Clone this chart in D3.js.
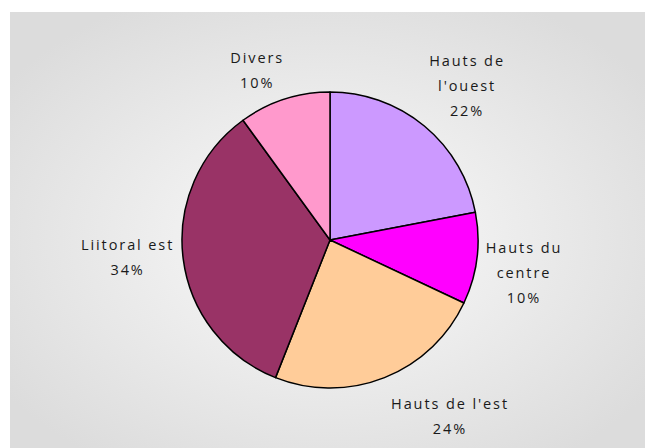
<!DOCTYPE html>
<html lang='fr'>
  <head>
    <meta charset='utf-8'>
    <script src='https://cdnjs.cloudflare.com/ajax/libs/d3/7.8.5/d3.min.js'></script>
    <style>
      body { margin: 0; background: #fff; }
      svg text { font-family: 'Open Sans', sans-serif; font-size: 14.5px; fill: #1a1a1a; letter-spacing: 1.9px; }
    </style>
  </head>
  <body>
    <div id='chart'></div>
    <script type='text/javascript'>

      // data, clockwise from 12 o'clock
      var zones = ["Hauts de l'ouest", 'Hauts du centre', "Hauts de l'est", 'Liitoral est', 'Divers'];
      var labelLines = [["Hauts de", "l'ouest"], ['Hauts du', 'centre'], ["Hauts de l'est"], ['Liitoral est'], ['Divers']];
      var shares = [22, 10, 24, 34, 10];
      var colours = ['#cc99ff', '#ff00ff', '#ffcc99', '#993366', '#ff99cc'];

      var svgWidth = 645;
      var svgHeight = 448;
      var cx = 330;
      var cy = 240;
      var radius = 148;
      var lineHeight = 25;

      var svg = d3.select('#chart').append('svg')
                  .attr('width', svgWidth)
                  .attr('height', svgHeight);

      // background with soft radial gradient
      var grad = svg.append('defs').append('radialGradient')
                    .attr('id', 'bg')
                    .attr('cx', '50%').attr('cy', '52%').attr('r', '62%');
      grad.append('stop').attr('offset', '0%').attr('stop-color', '#fbfbfb');
      grad.append('stop').attr('offset', '100%').attr('stop-color', '#dcdcdc');

      svg.append('rect')
         .attr('x', 10).attr('y', 12)
         .attr('width', svgWidth - 10).attr('height', svgHeight - 12)
         .attr('fill', 'url(#bg)');

      var pie = d3.pie().sort(null).value(function(d){ return d; });
      var arcs = pie(shares);

      var arc = d3.arc().innerRadius(0).outerRadius(radius);

      var g = svg.append('g').attr('transform', 'translate(' + cx + ',' + cy + ')');

      g.selectAll('path').data(arcs)
       .enter().append('path')
       .attr('d', arc)
       .attr('fill', function(d, i){ return colours[i]; })
       .attr('stroke', '#000')
       .attr('stroke-width', 1.5)
       .attr('stroke-linejoin', 'round');

      // labels outside the slices, pushed away from the pie by their box
      var labels = g.selectAll('g.label').data(arcs)
                    .enter().append('g')
                    .attr('class', 'label');

      labels.each(function(d, i){
        var lines = labelLines[i].concat([shares[i] + '%']);
        var grp = d3.select(this);
        lines.forEach(function(t, k){
          grp.append('text')
             .attr('text-anchor', 'middle')
             .attr('x', 0)
             .attr('y', (k - (lines.length - 1) / 2) * lineHeight + 5)
             .text(t);
        });
        var bb = this.getBBox();
        var a = (d.startAngle + d.endAngle) / 2;
        var s = Math.sin(a), c = Math.cos(a);
        // a bit more room under the pie, a bit less above
        var gap = 9 + 14 * Math.max(0, -c - 0.3) - 5 * Math.max(0, c - 0.5);
        var px = (radius + gap) * s;
        var py = -(radius + gap) * c;
        var kx = Math.max(-1, Math.min(1, s * 3));
        // left-hand labels sit a little higher than right-hand ones
        var ky = Math.max(-1, Math.min(1, -c * 3 - (s < 0 ? 0.55 : 0) * (1 - Math.abs(c))));
        px += kx * bb.width / 2;
        py += ky * bb.height / 2;
        grp.attr('transform', 'translate(' + px + ',' + py + ')');
      });

    </script>
  </body>
</html>
